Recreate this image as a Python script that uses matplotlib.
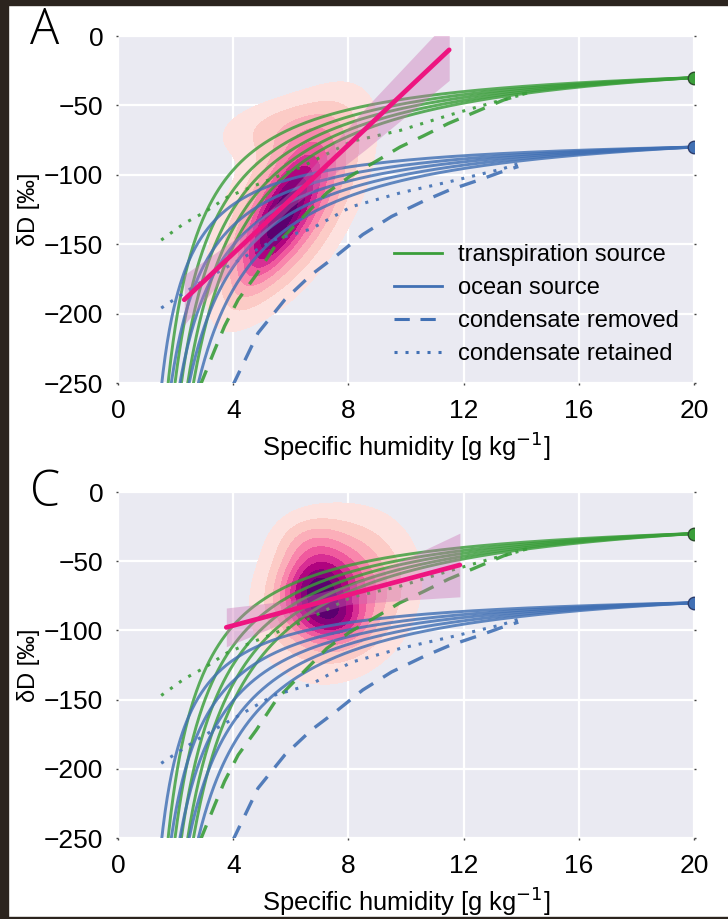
import numpy as np
import matplotlib
matplotlib.use("Agg")
import matplotlib.pyplot as plt
from matplotlib.patches import Rectangle
from matplotlib.lines import Line2D

plt.rcParams['font.family'] = ['Liberation Sans', 'DejaVu Sans']
plt.rcParams['axes.unicode_minus'] = True

# ---- moisture sources (q [g/kg], dD [permil]) ----
transp_source = (20.0, -30.0)
ocean_source = (20.0, -80.0)

# humidity at which each mixing curve reaches dD = -250 permil
transp_q250 = [1.74, 1.98, 2.20, 2.42, 2.62]
ocean_q250 = [1.52, 1.85, 2.15, 2.47, 2.79]
mix_offset = 0.55

# condensation curves (q, dD)
gdot_q = [1.5, 2.3, 3.0, 3.8, 4.6, 6.4, 8.1, 9.8, 11.5, 13.0, 13.9]
gdot_d = [-147, -135, -127, -116, -109, -94, -76, -68, -57, -48, -43]
bdot_q = [1.5, 2.3, 2.9, 4.4, 5.4, 6.7, 8.1, 9.8, 11.5, 13.3, 13.9]
bdot_d = [-196, -185, -177, -159, -147, -139, -123, -113, -105, -96, -92]
gdash_q = [2.85, 3.36, 3.7, 4.17, 4.8, 5.5, 6.3, 7.25, 8.06, 8.98, 9.79, 10.6, 11.47, 13.4, 14.2]
gdash_d = [-252, -226, -209, -190, -172, -150, -133, -113, -101, -90, -80, -72, -63, -46, -41]
bdash_q = [3.98, 4.86, 5.79, 6.71, 7.6, 8.5, 9.5, 10.6, 11.5, 12.5, 13.3, 13.9]
bdash_d = [-252, -214, -190, -172, -158, -143, -130, -119, -111, -104, -98, -94]

# density of observations: (q, dD, sd_q, sd_dD, corr, weight)
kde_A = [(6.0, -122, 1.45, 42, 0.60, 0.80),
         (5.5, -135, 0.9, 32, 0.80, 0.45),
         (5.4, -66, 1.4, 15, 0.30, 0.20)]
kde_C = [(7.6, -74, 1.5, 33, 0.15, 0.60),
         (6.8, -70, 0.8, 17, 0.10, 0.50),
         (7.5, -92, 0.7, 11, 0.00, 0.30),
         (6.6, -36, 0.8, 14, 0.00, 0.16)]

# regression fits: x range, intercept, slope; CI half-width at points
fit_A = dict(x=[2.3, 4.5, 6.0, 8.6, 11.5], b=-235.0, m=19.57, hw=[18, 7, 6, 15, 22])
fit_C = dict(x=[3.76, 6.0, 8.0, 10.0, 11.87], b=-118.7, m=5.56, hw=[14, 7, 7, 15, 23])

GREEN = '#3a9e3a'
BLUE = '#4170b4'
PINK = '#ee1480'
TICK_FS = 19
LABEL_FS = 18.4


def mixing(q, src, q250):
    qs, ds = src
    a = (-250.0 - ds) / (1.0 / (q250 - mix_offset) - 1.0 / (qs - mix_offset))
    return ds + a * (1.0 / (q - mix_offset) - 1.0 / (qs - mix_offset))


def density(params, Q, D):
    Z = np.zeros_like(Q)
    for (mq, md, sq, sd, r, w) in params:
        x = (Q - mq) / sq
        y = (D - md) / sd
        Z += w * np.exp(-(x * x - 2 * r * x * y + y * y) / (2 * (1 - r * r)))
    return Z


def panel(ax, kde, fit, letter, letter_y):
    ax.set_facecolor('#EAEAF2')
    for s in ax.spines.values():
        s.set_visible(False)
    ax.grid(True, color='white', lw=1.6)
    ax.set_axisbelow(True)

    qg = np.linspace(0, 20, 300)
    dg = np.linspace(-260, 10, 300)
    Q, D = np.meshgrid(qg, dg)
    Z = density(kde, Q, D)
    Z /= Z.max()
    levels = np.linspace(0.08, 1.0, 10)
    levels[-1] = 1.01
    cmap = plt.get_cmap('RdPu')
    cols = [cmap(v) for v in np.linspace(0.12, 0.95, len(levels) - 1)]
    ax.contourf(Q, D, Z, levels=levels, colors=cols, zorder=1)

    for src, qlist, col, edge in [(transp_source, transp_q250, GREEN, '#2d4d2d'),
                                  (ocean_source, ocean_q250, BLUE, '#2d3d6d')]:
        for q250 in qlist:
            q = np.linspace(q250 * 0.93, 20, 500)
            ax.plot(q, mixing(q, src, q250), color=col, lw=2.1, alpha=0.82,
                    zorder=3, solid_capstyle='butt')
        ax.plot([src[0]], [src[1]], 'o', ms=9, color=col, mec=edge,
                mew=1.0, zorder=6, clip_on=True)

    ax.plot(gdash_q, gdash_d, color=GREEN, lw=2.4, ls=(0, (5, 3.5)), zorder=3, alpha=0.9)
    ax.plot(bdash_q, bdash_d, color=BLUE, lw=2.4, ls=(0, (5, 3.5)), zorder=3, alpha=0.9)
    ax.plot(gdot_q, gdot_d, color=GREEN, lw=2.2, ls=(0, (1, 2.6)), zorder=3, alpha=0.9)
    ax.plot(bdot_q, bdot_d, color=BLUE, lw=2.2, ls=(0, (1, 2.6)), zorder=3, alpha=0.9)

    fx = np.array(fit['x'])
    fy = fit['b'] + fit['m'] * fx
    hw = np.array(fit['hw'])
    ax.fill_between(fx, fy - hw, fy + hw, color='#cc6eb4', alpha=0.38, lw=0, zorder=4)
    ax.plot([fx[0], fx[-1]], [fy[0], fy[-1]], color=PINK, lw=3.4, zorder=5,
            solid_capstyle='round')

    ax.set_xlim(0, 20)
    ax.set_ylim(-250, 0)
    ax.set_xticks([0, 4, 8, 12, 16, 20])
    ax.set_yticks([0, -50, -100, -150, -200, -250])
    ax.tick_params(labelsize=TICK_FS, length=1.5, width=1, color='#444444', pad=9,
                   right=True, top=False, labelcolor='black')
    ax.tick_params(axis='x', pad=10)
    ax.set_xlabel('Specific humidity [g kg$^{-1}$]', fontsize=LABEL_FS, labelpad=5)
    ax.set_ylabel('δD [‰]', fontsize=17, labelpad=3)
    ax.text(-0.127, letter_y, letter, transform=ax.transAxes, fontsize=35,
            family=['Open Sans', 'Liberation Sans'], fontweight='light',
            va='center', ha='center')


fig = plt.figure(figsize=(7.28, 9.19), dpi=100)
axA = fig.add_axes([0.1621, 0.5832, 0.7912, 0.3776])
axC = fig.add_axes([0.1621, 0.0881, 0.7912, 0.3765])
panel(axA, kde_A, fit_A, 'A', 1.015)
panel(axC, kde_C, fit_C, 'C', 0.998)

handles = [Line2D([], [], color=GREEN, lw=2.0),
           Line2D([], [], color=BLUE, lw=2.0),
           Line2D([], [], color=BLUE, lw=2.2, ls=(0, (5, 3.5))),
           Line2D([], [], color=BLUE, lw=2.2, ls=(0, (1, 2.6)))]
labels = ['transpiration source', 'ocean source', 'condensate removed', 'condensate retained']
leg = axA.legend(handles, labels, loc='lower left', bbox_to_anchor=(0.443, -0.01),
                 frameon=False, fontsize=17, handlelength=2.0, handletextpad=0.7,
                 labelspacing=0.47)
leg.set_zorder(10)

# dark frame around the figure edge
for rect in [(0, 0, 8 / 728, 1), (0, 1 - 5 / 919, 1, 5 / 919), (0, 0, 1, 2.5 / 919)]:
    fig.patches.append(Rectangle(rect[:2], rect[2], rect[3], transform=fig.transFigure,
                                 color='#2b241e', zorder=100))

fig.savefig('out.png', dpi=100)
